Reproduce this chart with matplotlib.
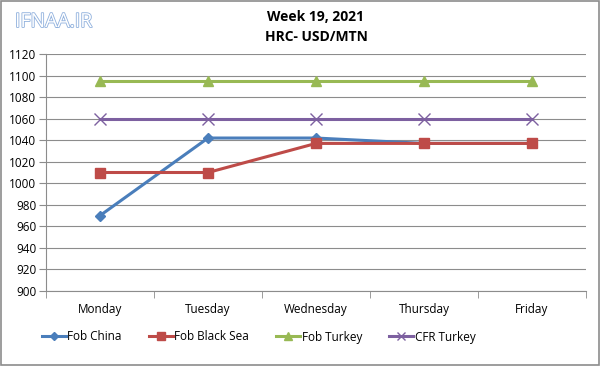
import matplotlib
matplotlib.use("Agg")
import matplotlib.pyplot as plt
from matplotlib.patches import Rectangle
import matplotlib.patheffects as pe

days = ["Monday", "Tuesday", "Wednesday", "Thursday", "Friday"]
fob_china = [970, 1042, 1042, 1037, 1037]
fob_black_sea = [1010, 1010, 1037, 1037, 1037]
fob_turkey = [1095, 1095, 1095, 1095, 1095]
cfr_turkey = [1060, 1060, 1060, 1060, 1060]
yticks = list(range(900, 1121, 20))

plt.rcParams['font.family'] = ['Open Sans', 'DejaVu Sans']

fig = plt.figure(figsize=(6.0, 3.66), dpi=100)
ax = fig.add_axes([46/600, 1-291/366, 540/600, 237/366])

x = list(range(len(days)))
ax.plot(x, fob_china, color='#4A7EBB', lw=2.2, marker='D', ms=5, label='Fob China', zorder=3)
ax.plot(x, fob_black_sea, color='#BE4B48', lw=2.2, marker='s', ms=7, label='Fob Black Sea', zorder=4)
ax.plot(x, fob_turkey, color='#98B954', lw=2.2, marker='^', ms=7, label='Fob Turkey', zorder=3)
ax.plot(x, cfr_turkey, color='#7D60A0', lw=2.2, marker='x', ms=8, mew=1.0, label='CFR Turkey', zorder=3)

ax.set_xlim(-0.5, 4.5)
ax.set_ylim(900, 1120)
ax.set_yticks(yticks)
ax.set_yticklabels([str(v) for v in yticks], fontsize=8.5)
ax.yaxis.grid(True, color='#8C8C8C', lw=0.8)
ax.set_axisbelow(True)
ax.set_xticks(x)
ax.set_xticklabels(days, fontsize=8.5)
ax.set_xticks([i - 0.5 for i in range(6)], minor=True)
ax.tick_params(axis='x', which='major', length=0, pad=9)
ax.tick_params(axis='x', which='minor', length=5, color='#8C8C8C')
ax.tick_params(axis='y', length=5, color='#8C8C8C', pad=2)
for s in ['top', 'right']:
    ax.spines[s].set_visible(False)
ax.spines['left'].set_color('#8C8C8C')
ax.spines['bottom'].set_color('#8C8C8C')

fig.text(316/600, 1-17/366, "Week 19, 2021", ha='center', va='center', fontsize=10, fontweight='bold')
fig.text(316/600, 1-37/366, "HRC- USD/MTN", ha='center', va='center', fontsize=10, fontweight='bold')
fig.text(15/600, 1-22/366, "IFNAA.IR", ha='left', va='center', fontsize=14, color='white',
         path_effects=[pe.withStroke(linewidth=1.2, foreground='#8FB0DD')])

leg = ax.legend(loc='center left', ncol=4, frameon=False,
                fontsize=8.5, handlelength=2.0, columnspacing=2.3, handletextpad=0.15,
                borderaxespad=0, borderpad=0, markerscale=0.8)
leg.set_bbox_to_anchor((-4/540, -(337-291)/237), transform=ax.transAxes)

fig.patches.append(Rectangle((1/600, 1/366), 598/600, 364/366, transform=fig.transFigure,
                             fill=False, edgecolor='#8C8C8C', lw=1.2))

fig.savefig("out.png", dpi=100)
